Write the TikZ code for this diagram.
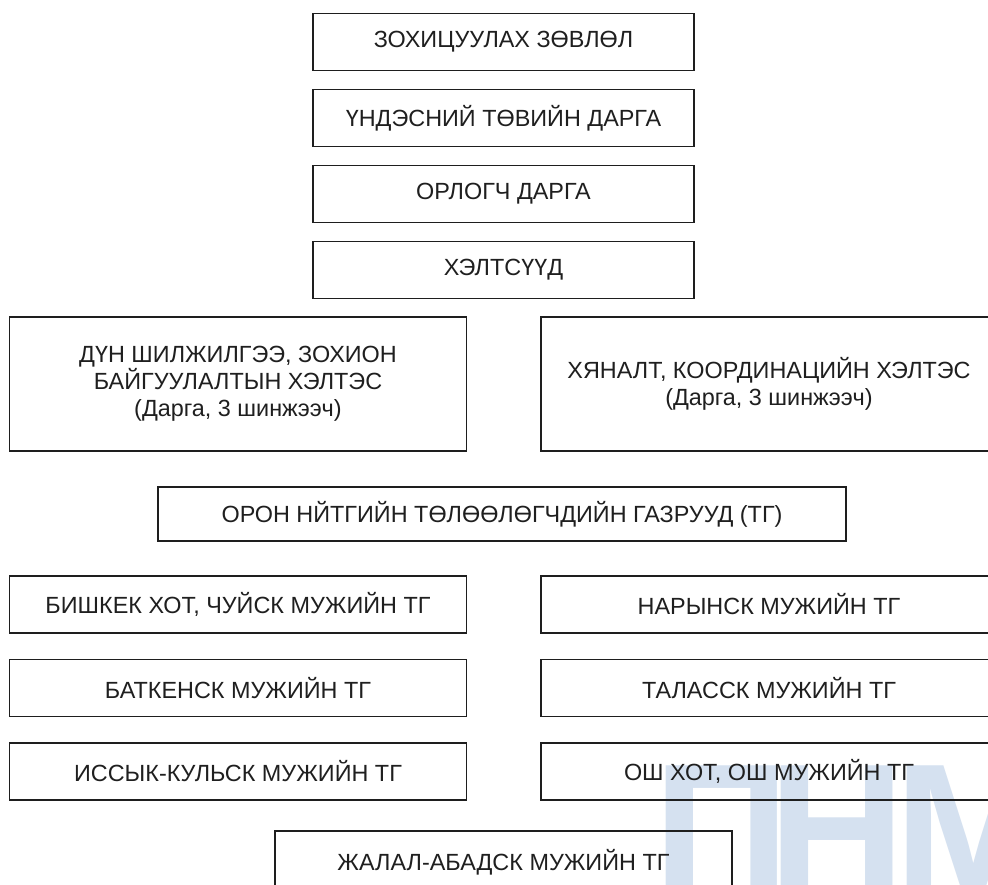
\documentclass[tikz,border=0pt]{standalone}
\usepackage{fontspec}
\setmainfont{Liberation Sans}
\definecolor{wmblue}{RGB}{213,225,240}
\definecolor{boxline}{RGB}{30,30,30}
\tikzset{
  orgbox/.style={draw=boxline, line width=1.3pt, inner sep=0pt, align=center,
    font=\fontsize{23.4}{27}\selectfont, text=black!88},
  narrowbox/.style={orgbox, minimum width=381pt, minimum height=57pt},
  sidebox/.style={orgbox, minimum width=457pt, minimum height=57pt},
  bigbox/.style={orgbox, minimum width=457pt, minimum height=134pt},
  wmark/.style={inner sep=0pt, anchor=base west, text=wmblue,
    font=\fontsize{190}{190}\selectfont\bfseries}
}
\begin{document}
\begin{tikzpicture}[x=1pt,y=-1pt]
\useasboundingbox (0,0) rectangle (988,884);
\clip (0,0) rectangle (988,884);
\fill[white] (0,0) rectangle (988,884);
% watermark (behind the boxes)
\node[wmark] (wmP) at (653,896) {П};
\node[wmark] (wmN) at (768,896) {Н};
\node[wmark] (wmM) at (894,896) {М};
% top column
\node[narrowbox] (b1) at (503.5,42) {ЗОХИЦУУЛАХ ЗӨВЛӨЛ};
\node[narrowbox] (b2) at (503.5,118) {ҮНДЭСНИЙ ТӨВИЙН ДАРГА};
\node[narrowbox] (b3) at (503.5,194) {ОРЛОГЧ ДАРГА};
\node[narrowbox] (b4) at (503.5,270) {ХЭЛТСҮҮД};
% departments
\node[bigbox] (dl) at (238,384) {ДҮН ШИЛЖИЛГЭЭ, ЗОХИОН\\БАЙГУУЛАЛТЫН ХЭЛТЭС\\(Дарга, 3 шинжээч)};
\node[bigbox, minimum width=456pt] (dr) at (769,384) {ХЯНАЛТ, КООРДИНАЦИЙН ХЭЛТЭС\\(Дарга, 3 шинжээч)};
% representatives
\node[orgbox, minimum width=688pt, minimum height=54pt] (tg) at (502,514) {ОРОН НЙТГИЙН ТӨЛӨӨЛӨГЧДИЙН ГАЗРУУД (ТГ)};
\node[sidebox] (l1) at (238,604.5) {БИШКЕК ХОТ, ЧУЙСК МУЖИЙН ТГ};
\node[sidebox] (l2) at (238,688) {БАТКЕНСК МУЖИЙН ТГ};
\node[sidebox] (l3) at (238,771.5) {ИССЫК-КУЛЬСК МУЖИЙН ТГ};
\node[sidebox, minimum width=456pt] (r1) at (769,604.5) {НАРЫНСК МУЖИЙН ТГ};
\node[sidebox, minimum width=456pt] (r2) at (769,688) {ТАЛАССК МУЖИЙН ТГ};
\node[sidebox, minimum width=456pt] (r3) at (769,771.5) {ОШ ХОТ, ОШ МУЖИЙН ТГ};
\node[sidebox, minimum height=62pt] (jl) at (503.5,862) {ЖАЛАЛ-АБАДСК МУЖИЙН ТГ};
\end{tikzpicture}
\end{document}
